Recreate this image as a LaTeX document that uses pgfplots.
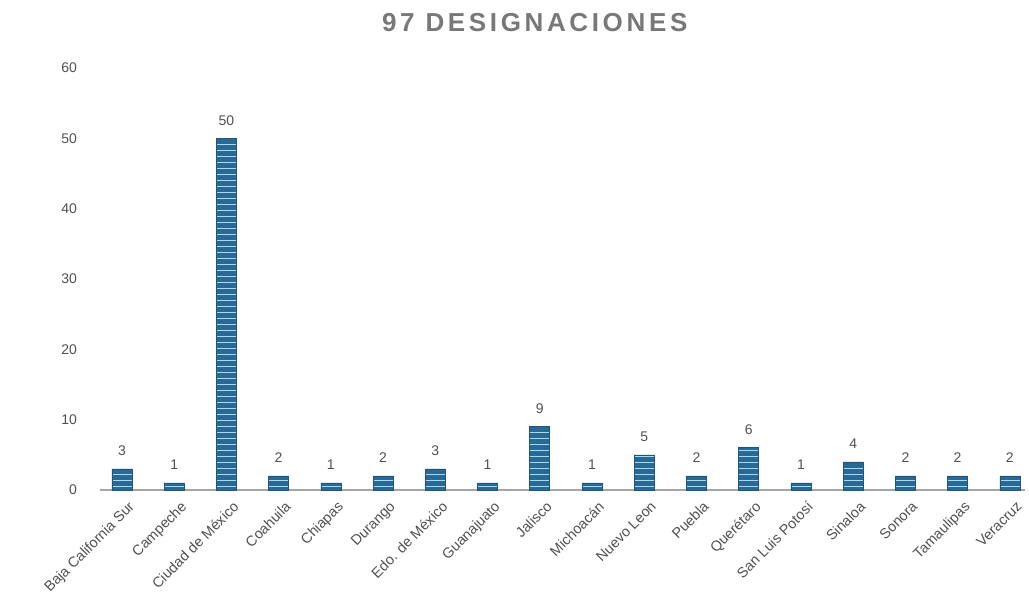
\documentclass[border=0pt]{standalone}
\usepackage{pgfplots}
\pgfplotsset{compat=1.18}
\usepackage{fontspec}
\setmainfont{Liberation Sans}
\usetikzlibrary{patterns}
\definecolor{barblue}{RGB}{40,105,150}
\definecolor{barline}{RGB}{170,215,235}
\definecolor{txtgray}{RGB}{80,80,80}
\definecolor{titlegray}{RGB}{120,120,120}
\begin{document}
\begin{tikzpicture}
\useasboundingbox (-50pt,-61.5pt) rectangle (464.5pt,245pt);
\begin{axis}[
  at={(0,0)}, anchor=south west,
  scale only axis,
  width=462.5pt, height=211pt,
  xmin=-0.42, xmax=17.29,
  ymin=0, ymax=60,
  ytick={0,10,...,60},
  xtick={0,...,17},
  xticklabels={Baja California Sur,Campeche,Ciudad de México,Coahuila,Chiapas,Durango,Edo. de México,Guanajuato,Jalisco,Michoacán,Nuevo Leon,Puebla,Querétaro,San Luis Potosí,Sinaloa,Sonora,Tamaulipas,Veracruz},
  xticklabel style={rotate=45, anchor=north east, font=\fontsize{7.2}{8}\selectfont, text=txtgray, inner sep=0.5pt, yshift=-5pt, xshift=-1pt},
  yticklabel style={font=\fontsize{7}{8}\selectfont, text=txtgray, xshift=-8pt},
  /pgf/number format/assume math mode=true,
  axis lines*=left,
  x axis line style={draw=gray!70, line width=0.6pt},
  y axis line style={draw=none},
  major tick length=0pt,
  title={97 DESIGNACIONES},
  title style={at={(0.47,1)}, anchor=south, yshift=8.5pt, font=\fontsize{13}{15}\bfseries\addfontfeatures{LetterSpace=14}, text=titlegray},
  nodes near coords,
  every node near coord/.append style={font=\fontsize{7}{8}\selectfont, text=txtgray, yshift=3pt},
  clip=false,
]
\addplot[ybar, bar width=10pt, draw=barblue!80!black, line width=0.3pt, fill=barblue,
  postaction={pattern=horizontal lines, pattern color=barline}]
  coordinates {(0,3) (1,1) (2,50) (3,2) (4,1) (5,2) (6,3) (7,1) (8,9) (9,1) (10,5) (11,2) (12,6) (13,1) (14,4) (15,2) (16,2) (17,2)};
\end{axis}
\end{tikzpicture}
\end{document}
